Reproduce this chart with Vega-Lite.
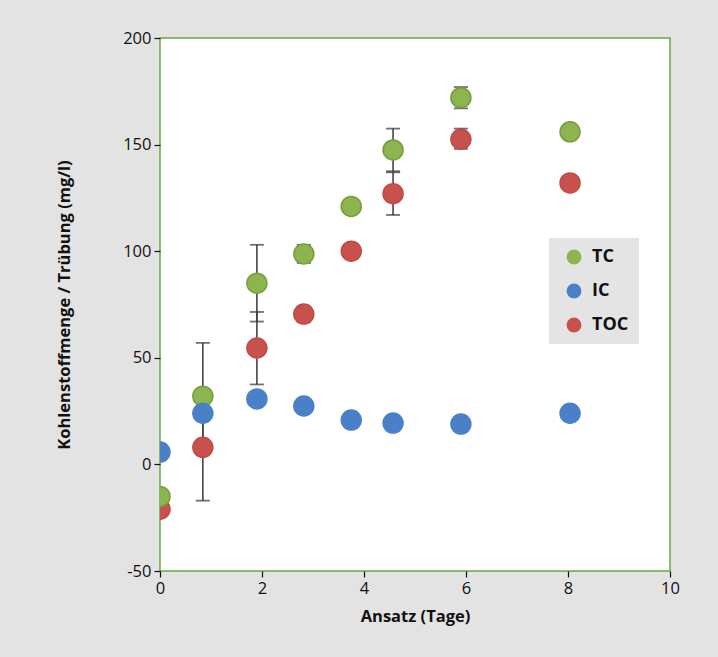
{
  "$schema": "https://vega.github.io/schema/vega-lite/v6.json",
  "autosize": {"type": "none"},
  "width": 510,
  "height": 533,
  "padding": {"left": 160, "top": 38, "right": 48, "bottom": 86},
  "background": "#e3e3e3",
  "config": {
    "view": {"fill": "white", "stroke": "#6aa743", "strokeWidth": 1.5},
    "font": "Open Sans",
    "axis": {
      "domain": false,
      "grid": false,
      "tickColor": "#111111",
      "tickSize": 6,
      "tickWidth": 1.2,
      "labelFontSize": 16.5,
      "labelColor": "#111111",
      "labelPadding": 3,
      "labelFlush": false,
      "labelExpr": "replace(datum.label, '−', '-')",
      "titleFontSize": 16.5,
      "titleFontWeight": "bold",
      "titleColor": "#111111"
    }
  },
  "data": {
    "values": [
      {"tag": 0.0, "serie": "TC", "val": -15},
      {"tag": 0.84, "serie": "TC", "val": 32, "lo": 7, "hi": 57},
      {"tag": 1.9, "serie": "TC", "val": 85, "lo": 67, "hi": 103},
      {"tag": 2.82, "serie": "TC", "val": 98.7, "lo": 94.5, "hi": 103},
      {"tag": 3.75, "serie": "TC", "val": 121},
      {"tag": 4.57, "serie": "TC", "val": 147.5, "lo": 137.5, "hi": 157.5},
      {"tag": 5.9, "serie": "TC", "val": 172, "lo": 167, "hi": 177},
      {"tag": 8.04, "serie": "TC", "val": 156},
      {"tag": 0.0, "serie": "IC", "val": 5.8},
      {"tag": 0.84, "serie": "IC", "val": 24},
      {"tag": 1.9, "serie": "IC", "val": 30.7},
      {"tag": 2.82, "serie": "IC", "val": 27.4},
      {"tag": 3.75, "serie": "IC", "val": 20.8},
      {"tag": 4.57, "serie": "IC", "val": 19.4},
      {"tag": 5.9, "serie": "IC", "val": 18.9},
      {"tag": 8.04, "serie": "IC", "val": 24},
      {"tag": 0.0, "serie": "TOC", "val": -21},
      {"tag": 0.84, "serie": "TOC", "val": 8, "lo": -17, "hi": 33},
      {"tag": 1.9, "serie": "TOC", "val": 54.6, "lo": 37.5, "hi": 71.5},
      {"tag": 2.82, "serie": "TOC", "val": 70.5, "lo": 67, "hi": 74},
      {"tag": 3.75, "serie": "TOC", "val": 100},
      {"tag": 4.57, "serie": "TOC", "val": 127, "lo": 117, "hi": 137},
      {"tag": 5.9, "serie": "TOC", "val": 152.5, "lo": 148, "hi": 157.5},
      {"tag": 8.04, "serie": "TOC", "val": 132}
    ]
  },
  "layer": [
    {
      "transform": [{"filter": "isValid(datum.lo)"}],
      "mark": {"type": "rule", "color": "#444444", "strokeWidth": 1.6},
      "encoding": {
        "x": {"field": "tag", "type": "quantitative"},
        "y": {"field": "lo", "type": "quantitative"},
        "y2": {"field": "hi"}
      }
    },
    {
      "transform": [
        {"filter": "isValid(datum.lo)"},
        {"fold": ["lo", "hi"], "as": ["end", "cap"]}
      ],
      "mark": {"type": "tick", "orient": "horizontal", "color": "#333333", "size": 14, "thickness": 1.8},
      "encoding": {
        "x": {"field": "tag", "type": "quantitative"},
        "y": {"field": "cap", "type": "quantitative"}
      }
    },
    {
      "mark": {"type": "circle", "opacity": 1, "size": 400, "strokeWidth": 1.5, "clip": true},
      "encoding": {
        "x": {
          "field": "tag",
          "type": "quantitative",
          "scale": {"domain": [0, 10], "nice": false},
          "axis": {"values": [0, 2, 4, 6, 8, 10], "title": "Ansatz (Tage)", "titlePadding": 12}
        },
        "y": {
          "field": "val",
          "type": "quantitative",
          "scale": {"domain": [-50, 200], "nice": false},
          "axis": {"values": [-50, 0, 50, 100, 150, 200], "title": "Kohlenstoffmenge / Trübung (mg/l)", "titlePadding": 50}
        },
        "color": {
          "field": "serie",
          "type": "nominal",
          "scale": {"domain": ["TC", "IC", "TOC"], "range": ["#8db44f", "#4a80c8", "#c8504d"]},
          "legend": {
            "orient": "none",
            "legendX": 389,
            "legendY": 200,
            "title": null,
            "fillColor": "#e4e4e4",
            "padding": 10,
            "symbolType": "circle",
            "symbolSize": 220,
            "symbolStrokeWidth": 0,
            "symbolOffset": 6,
            "labelFontSize": 18,
            "labelFontWeight": "bold",
            "labelColor": "#111111",
            "labelOffset": 9,
            "rowPadding": 16
          }
        },
        "stroke": {
          "field": "serie",
          "type": "nominal",
          "scale": {"domain": ["TC", "IC", "TOC"], "range": ["#73a03c", "#4a80c8", "#c04a47"]},
          "legend": null
        },
        "order": {"field": "serie", "sort": "descending"}
      }
    }
  ]
}
